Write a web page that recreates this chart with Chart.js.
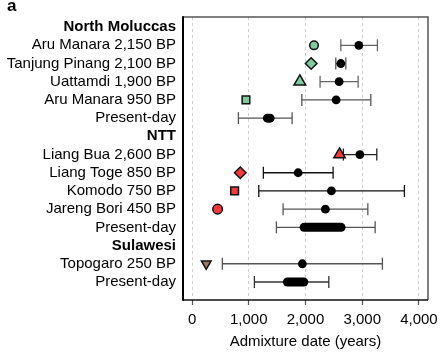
<!DOCTYPE html>
<html>
<head>
<meta charset="utf-8">
<script src="https://cdn.jsdelivr.net/npm/chart.js@4/dist/chart.umd.min.js"></script>
<style>
  html, body { margin: 0; padding: 0; background: #fff; }
  #wrap { width: 448px; height: 355px; }
</style>
</head>
<body>
<div id="wrap"><canvas id="c" width="448" height="355"></canvas></div>
<script>
// ---- data ----
const rowLabels = [
  'North Moluccas', 'Aru Manara 2,150 BP', 'Tanjung Pinang 2,100 BP', 'Uattamdi 1,900 BP',
  'Aru Manara 950 BP', 'Present-day', 'NTT', 'Liang Bua 2,600 BP', 'Liang Toge 850 BP',
  'Komodo 750 BP', 'Jareng Bori 450 BP', 'Present-day', 'Sulawesi', 'Topogaro 250 BP', 'Present-day'
];
const headerRows = [0, 6, 12];
const sampleDate = [null, 2150, 2100, 1900, 950, null, null, 2600, 850, 750, 450, null, null, 250, null];
const admixDate  = [null, 2940, 2623, 2593, 2540, null, null, 2958, 1870, 2457, 2351, null, null, 1945, null];
const ciLow      = [null, 2623, 2534, 2257, 1935, 817, null, 2668, 1257, 1176, 1605, 1487, null, 534, 1099];
const ciHigh     = [null, 3268, 2711, 2928, 3152, 1764, null, 3257, 2487, 3744, 3099, 3228, null, 3356, 2411];
const rangeLow   = [null, null, null, null, null, 1328, null, null, null, null, null, 1975, null, null, 1681];
const rangeHigh  = [null, null, null, null, null, 1376, null, null, null, null, null, 2628, null, null, 1970];
const xTicks = [0, 1000, 2000, 3000, 4000];

// ---- styles ----
const FONT = "'Liberation Sans', Arial, Helvetica, sans-serif";
const GREEN = '#7fca9f', RED = '#f23a3e', BROWN = '#9b7a6b';
const markerShape = [null, 'circle', 'rectRot', 'triangle', 'rect', null, null, 'triangle', 'rectRot', 'rect', 'circle', null, null, 'triangle', null];
const markerRot   = [0, 0, 0, 0, 0, 0, 0, 0, 0, 0, 0, 0, 0, 180, 0];
const markerSize  = [0, 4.3, 5.8, 6.8, 5.4, 0, 0, 6.6, 5.8, 5.5, 4.8, 0, 0, 5.6, 0];
const markerColor = [null, GREEN, GREEN, GREEN, GREEN, null, null, RED, RED, RED, RED, null, null, BROWN, null];
const barColor    = [null, '#666', '#555', '#666', '#555', '#555', null, '#222', '#111', '#111', '#555', '#555', null, '#555', '#333'];

// ---- datasets ----
const datasets = [];
rowLabels.forEach((lab, i) => {
  if (ciLow[i] !== null) {
    datasets.push({
      type: 'line', order: 4,
      data: [{x: ciLow[i], y: i}, {x: ciHigh[i], y: i}],
      borderColor: barColor[i], borderWidth: 1.3,
      pointStyle: 'line', rotation: 90, pointRadius: 6,
      pointBorderColor: barColor[i], pointBorderWidth: 1.3,
      showLine: true, fill: false
    });
  }
  if (rangeLow[i] !== null) {
    datasets.push({
      type: 'line', order: 3,
      data: [{x: rangeLow[i], y: i}, {x: rangeHigh[i], y: i}],
      borderColor: '#000', borderWidth: 9, borderCapStyle: 'round',
      pointRadius: 0, showLine: true, fill: false
    });
  }
});
const estPts = [];
admixDate.forEach((v, i) => { if (v !== null) estPts.push({x: v, y: i}); });
datasets.push({
  type: 'scatter', order: 2, data: estPts,
  pointRadius: 4.4, pointBackgroundColor: '#000', pointBorderColor: '#000', pointBorderWidth: 0
});
const samplePts = [], sStyle = [], sRot = [], sRad = [], sCol = [];
sampleDate.forEach((v, i) => {
  if (v !== null) {
    samplePts.push({x: v, y: i});
    sStyle.push(markerShape[i]); sRot.push(markerRot[i]); sRad.push(markerSize[i]); sCol.push(markerColor[i]);
  }
});
datasets.push({
  type: 'scatter', order: 1, data: samplePts,
  pointStyle: sStyle, rotation: sRot, pointRadius: sRad,
  pointBackgroundColor: sCol, pointBorderColor: '#111', pointBorderWidth: 1.5
});

// ---- plugins ----
const framePlugin = {
  id: 'frame',
  beforeDatasetsDraw(chart) {
    const {ctx, chartArea: a} = chart;
    ctx.save();
    ctx.lineCap = 'butt';
    ctx.strokeStyle = '#555'; ctx.lineWidth = 1.5;
    ctx.beginPath();
    ctx.moveTo(a.left, a.top); ctx.lineTo(a.right, a.top); ctx.lineTo(a.right, a.bottom);
    ctx.stroke();
    ctx.strokeStyle = '#111'; ctx.lineWidth = 1.6;
    ctx.beginPath(); ctx.moveTo(a.left, a.bottom); ctx.lineTo(a.right, a.bottom); ctx.stroke();
    ctx.strokeStyle = '#000'; ctx.lineWidth = 2;
    ctx.beginPath(); ctx.moveTo(a.left, a.top - 0.75); ctx.lineTo(a.left, a.bottom + 0.8); ctx.stroke();
    ctx.restore();
  },
  afterDraw(chart) {
    const ctx = chart.ctx;
    ctx.save();
    ctx.fillStyle = '#000';
    ctx.font = 'bold 17px ' + FONT;
    ctx.textBaseline = 'alphabetic';
    ctx.fillText('a', 7, 11);
    ctx.restore();
  }
};

new Chart(document.getElementById('c'), {
  type: 'scatter',
  data: { datasets },
  options: {
    responsive: false,
    animation: false,
    events: [],
    layout: { padding: { left: 0, right: 20, top: 17, bottom: 0 } },
    plugins: { legend: { display: false }, tooltip: { enabled: false }, title: { display: false } },
    scales: {
      x: {
        type: 'linear', min: -160, max: 4160,
        afterBuildTicks(s) { s.ticks = xTicks.map(v => ({value: v})); },
        afterFit(s) { s.height = 55; },
        grid: {
          color: '#cfcfcf', lineWidth: 1, drawTicks: true, tickLength: 5,
          tickColor: '#555', tickWidth: 1.2, tickBorderDash: []
        },
        border: { display: false, dash: [3, 3] },
        ticks: {
          color: '#000', padding: 6,
          font: { family: FONT, size: 15 },
          callback: v => v.toLocaleString('en-US')
        },
        title: {
          display: true, text: 'Admixture date (years)', color: '#000',
          font: { family: FONT, size: 15 }, padding: { top: 0, bottom: 4 }
        }
      },
      y: {
        type: 'linear', reverse: true, min: -0.555, max: 14.99,
        afterBuildTicks(s) { s.ticks = rowLabels.map((_, i) => ({value: i})); },
        afterFit(s) { s.width = 183; },
        grid: { display: false, drawTicks: false },
        border: { display: false },
        ticks: {
          color: '#000', padding: 7, autoSkip: false,
          font: (ctx) => ({ family: FONT, size: 15, weight: headerRows.includes(ctx.index) ? 'bold' : 'normal' }),
          callback: (v, idx) => rowLabels[idx]
        }
      }
    }
  },
  plugins: [framePlugin]
});
</script>
</body>
</html>
